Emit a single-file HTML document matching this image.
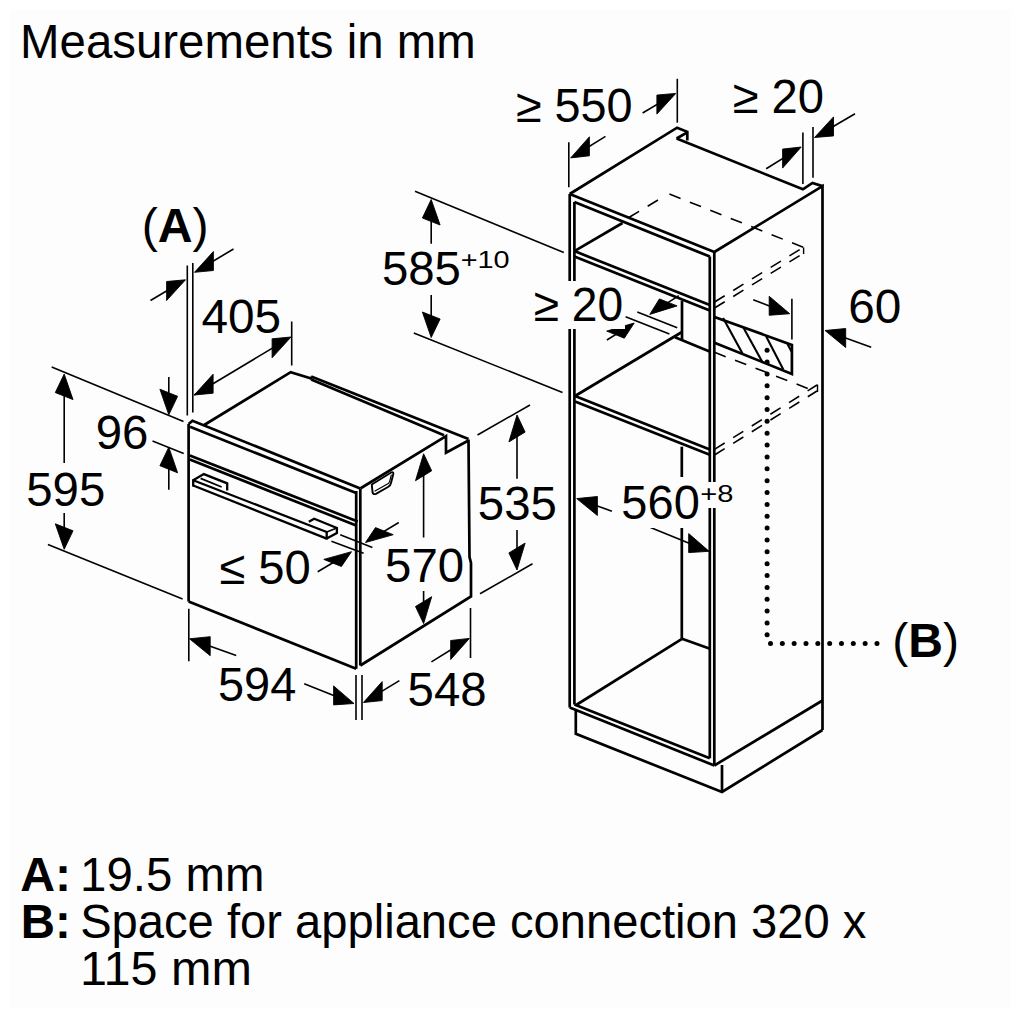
<!DOCTYPE html>
<html><head><meta charset="utf-8"><style>
html,body{margin:0;padding:0;background:#fff;}
svg{display:block;}
</style></head><body>
<svg width="1024" height="1024" viewBox="0 0 1024 1024" style="font-family:'Liberation Sans',sans-serif">
<rect x="0" y="0" width="1024" height="1024" fill="#fff"/>
<rect x="10" y="10" width="1001" height="998" fill="#fdfdfd"/>
<g stroke="#000" fill="none" stroke-linecap="butt">
<line x1="188.6" y1="424.0" x2="188.6" y2="601.5" stroke-width="2.7"/>
<line x1="188.6" y1="601.5" x2="356.2" y2="668.8" stroke-width="2.7"/>
<line x1="356.2" y1="491.0" x2="356.2" y2="668.8" stroke-width="2.7"/>
<line x1="360.3" y1="489.0" x2="360.3" y2="665.5" stroke-width="2.7"/>
<path d="M188.6,424.0 L192.5,420.7 L360.3,488.5" stroke-width="2.7" fill="none" stroke-linejoin="miter"/>
<line x1="190.0" y1="426.8" x2="356.2" y2="493.0" stroke-width="2.7"/>
<line x1="189.8" y1="455.4" x2="357.7" y2="521.5" stroke-width="2.7"/>
<line x1="189.8" y1="459.6" x2="356.2" y2="525.5" stroke-width="2.7"/>
<path d="M360.3,488.5 L446.0,436.2 L446.0,452.8 L468.5,440.5" stroke-width="2.7" fill="none" stroke-linejoin="miter"/>
<path d="M468.5,439.5 L469.5,557.0 L471.0,563.0 L471.0,596.5 L360.3,665.5" stroke-width="2.7" fill="none" stroke-linejoin="miter"/>
<path d="M204.2,425.0 L290.7,372.1 L311.2,378.5" stroke-width="2.7" fill="none" stroke-linejoin="miter"/>
<line x1="311.2" y1="376.6" x2="311.2" y2="379.5" stroke-width="2.7"/>
<line x1="311.2" y1="376.6" x2="468.5" y2="439.1" stroke-width="2.7"/>
<line x1="311.2" y1="379.5" x2="444.0" y2="435.2" stroke-width="2.7"/>
<path d="M371.8,484.5 L391.5,472.3 Q393.6,471.8 393.3,474 L391,483 Q390.5,485.5 388,487 L376,493.8 Q373,495 372.5,492 Z" stroke-width="1.9" fill="none"/>
<path d="M374.6,491.2 L388.3,483.6 Q389.6,482.6 390,480 L391.4,474.6" stroke-width="1.2" fill="none"/>
<line x1="193.2" y1="480.3" x2="326.7" y2="532.0" stroke-width="2.3"/>
<line x1="193.2" y1="485.5" x2="326.7" y2="538.6" stroke-width="2.3"/>
<line x1="193.2" y1="479.2" x2="193.2" y2="486.6" stroke-width="2.3"/>
<path d="M193.2,480.3 L203.8,474.1 L227.2,483.4 L227.2,490.5" stroke-width="2.3" fill="none" stroke-linejoin="miter"/>
<line x1="200.6" y1="478.4" x2="221.7" y2="487.0" stroke-width="1.8"/>
<path d="M308.8,521.8 L314.2,518.7 L336.9,528.0 L336.9,533.1 L326.7,538.6" stroke-width="2.3" fill="none" stroke-linejoin="miter"/>
<line x1="326.7" y1="532.0" x2="336.9" y2="528.0" stroke-width="1.6"/>
<line x1="326.7" y1="531.0" x2="326.7" y2="539.6" stroke-width="2.3"/>
<line x1="187.3" y1="265.5" x2="187.3" y2="415.5" stroke-width="1.6"/>
<line x1="192.8" y1="263.0" x2="192.8" y2="412.5" stroke-width="1.6"/>
<line x1="181.2" y1="282.3" x2="150.5" y2="300.5" stroke-width="1.6"/>
<polygon points="185.5,279.8 166.6,300.5 166.6,281.5" fill="#000" stroke="#000" stroke-width="0.9" stroke-linejoin="miter"/>
<line x1="198.8" y1="269.7" x2="233.5" y2="249.0" stroke-width="1.6"/>
<polygon points="194.5,272.3 213.4,270.5 213.4,251.5" fill="#000" stroke="#000" stroke-width="0.9" stroke-linejoin="miter"/>
<line x1="291.7" y1="321.5" x2="291.7" y2="365.5" stroke-width="1.6"/>
<polygon points="194.2,395.0 213.1,393.2 213.1,374.2" fill="#000" stroke="#000" stroke-width="0.9" stroke-linejoin="miter"/>
<line x1="286.7" y1="339.6" x2="194.2" y2="395.0" stroke-width="1.6"/>
<polygon points="291.0,337.0 272.1,357.8 272.1,338.8" fill="#000" stroke="#000" stroke-width="0.9" stroke-linejoin="miter"/>
<line x1="51.7" y1="367.0" x2="183.5" y2="421.5" stroke-width="1.6"/>
<line x1="47.9" y1="544.5" x2="182.6" y2="599.1" stroke-width="1.6"/>
<line x1="64.2" y1="379.1" x2="64.2" y2="463.1" stroke-width="1.6"/>
<polygon points="64.2,374.1 73.0,399.6 55.3,392.6" fill="#000" stroke="#000" stroke-width="0.9" stroke-linejoin="miter"/>
<line x1="64.2" y1="544.3" x2="64.2" y2="513.0" stroke-width="1.6"/>
<polygon points="64.2,549.3 73.0,530.8 55.3,523.8" fill="#000" stroke="#000" stroke-width="0.9" stroke-linejoin="miter"/>
<line x1="152.5" y1="441.0" x2="183.7" y2="453.5" stroke-width="1.6"/>
<line x1="168.8" y1="409.8" x2="168.8" y2="377.0" stroke-width="1.6"/>
<polygon points="168.8,414.8 177.6,396.3 159.9,389.2" fill="#000" stroke="#000" stroke-width="0.9" stroke-linejoin="miter"/>
<line x1="168.8" y1="452.2" x2="168.8" y2="489.8" stroke-width="1.6"/>
<polygon points="168.8,447.2 177.6,472.8 159.9,465.7" fill="#000" stroke="#000" stroke-width="0.9" stroke-linejoin="miter"/>
<line x1="331.4" y1="541.2" x2="363.6" y2="553.3" stroke-width="1.6"/>
<line x1="340.2" y1="534.7" x2="372.4" y2="547.4" stroke-width="1.6"/>
<line x1="347.2" y1="554.3" x2="317.7" y2="571.8" stroke-width="1.6"/>
<polygon points="351.5,551.7 341.4,566.5 323.8,559.4" fill="#000" stroke="#000" stroke-width="0.9" stroke-linejoin="miter"/>
<line x1="369.8" y1="539.9" x2="398.8" y2="522.5" stroke-width="1.6"/>
<polygon points="365.5,542.5 393.2,534.7 375.5,527.6" fill="#000" stroke="#000" stroke-width="0.9" stroke-linejoin="miter"/>
<line x1="423.6" y1="458.8" x2="423.6" y2="537.5" stroke-width="1.6"/>
<polygon points="423.6,453.8 431.7,470.8 415.5,480.7" fill="#000" stroke="#000" stroke-width="0.9" stroke-linejoin="miter"/>
<line x1="423.6" y1="618.6" x2="423.6" y2="591.0" stroke-width="1.6"/>
<polygon points="423.6,623.6 431.7,596.7 415.5,606.5" fill="#000" stroke="#000" stroke-width="0.9" stroke-linejoin="miter"/>
<line x1="477.5" y1="435.0" x2="530.0" y2="405.0" stroke-width="1.6"/>
<line x1="480.0" y1="593.8" x2="532.5" y2="563.8" stroke-width="1.6"/>
<line x1="517.0" y1="420.0" x2="517.0" y2="478.8" stroke-width="1.6"/>
<polygon points="517.0,415.0 525.1,432.1 508.9,441.9" fill="#000" stroke="#000" stroke-width="0.9" stroke-linejoin="miter"/>
<line x1="517.0" y1="565.0" x2="517.0" y2="530.0" stroke-width="1.6"/>
<polygon points="517.0,570.0 525.1,543.1 508.9,552.9" fill="#000" stroke="#000" stroke-width="0.9" stroke-linejoin="miter"/>
<line x1="188.8" y1="608.8" x2="188.8" y2="661.2" stroke-width="1.6"/>
<line x1="194.2" y1="640.4" x2="236.2" y2="655.5" stroke-width="1.6"/>
<polygon points="189.5,638.8 210.2,655.7 210.2,636.7" fill="#000" stroke="#000" stroke-width="0.9" stroke-linejoin="miter"/>
<line x1="349.4" y1="701.7" x2="304.2" y2="683.8" stroke-width="1.6"/>
<polygon points="354.0,703.5 333.6,704.9 333.6,685.9" fill="#000" stroke="#000" stroke-width="0.9" stroke-linejoin="miter"/>
<line x1="356.0" y1="675.0" x2="356.0" y2="720.0" stroke-width="1.6"/>
<line x1="362.0" y1="675.0" x2="362.0" y2="720.0" stroke-width="1.6"/>
<line x1="470.5" y1="608.0" x2="470.5" y2="658.0" stroke-width="1.6"/>
<line x1="367.7" y1="699.9" x2="399.4" y2="680.6" stroke-width="1.6"/>
<polygon points="363.4,702.5 382.2,700.6 382.2,681.6" fill="#000" stroke="#000" stroke-width="0.9" stroke-linejoin="miter"/>
<line x1="465.1" y1="641.0" x2="431.4" y2="661.9" stroke-width="1.6"/>
<polygon points="469.4,638.4 450.7,659.5 450.7,640.5" fill="#000" stroke="#000" stroke-width="0.9" stroke-linejoin="miter"/>
<line x1="569.7" y1="194.0" x2="569.7" y2="707.5" stroke-width="2.7"/>
<line x1="574.4" y1="201.9" x2="574.4" y2="704.5" stroke-width="2.7"/>
<line x1="714.3" y1="252.0" x2="714.3" y2="765.5" stroke-width="2.7"/>
<line x1="709.8" y1="256.6" x2="709.8" y2="758.2" stroke-width="2.7"/>
<line x1="569.7" y1="194.0" x2="714.3" y2="252.0" stroke-width="2.7"/>
<line x1="574.4" y1="201.9" x2="709.8" y2="256.6" stroke-width="2.7"/>
<line x1="569.7" y1="707.5" x2="714.3" y2="765.5" stroke-width="2.7"/>
<line x1="574.4" y1="704.5" x2="709.8" y2="758.2" stroke-width="2.7"/>
<path d="M569.7,194.0 L677.1,127.7 L687.3,131.8 L687.3,140.4" stroke-width="2.7" fill="none" stroke-linejoin="miter"/>
<line x1="676.6" y1="138.5" x2="687.3" y2="132.3" stroke-width="2.7"/>
<path d="M676.6,138.5 L802.9,189.3 L812.5,182.9 L823.2,186.4" stroke-width="2.7" fill="none" stroke-linejoin="miter"/>
<path d="M714.3,252.0 L822.5,186.2 L822.5,730.0" stroke-width="2.7" fill="none" stroke-linejoin="miter"/>
<line x1="714.3" y1="765.5" x2="822.5" y2="700.5" stroke-width="2.7"/>
<path d="M575.8,711.0 L575.8,733.8 L722.0,792.0 L822.5,730.0" stroke-width="2.7" fill="none" stroke-linejoin="miter"/>
<line x1="722.0" y1="765.0" x2="722.0" y2="792.0" stroke-width="2.7"/>
<line x1="574.4" y1="251.1" x2="709.8" y2="305.1" stroke-width="2.7"/>
<line x1="574.4" y1="256.6" x2="709.8" y2="310.5" stroke-width="2.7"/>
<line x1="574.4" y1="251.1" x2="622.5" y2="223.0" stroke-width="2.7"/>
<line x1="628.8" y1="217.5" x2="660.0" y2="198.8" stroke-width="1.6" stroke-dasharray="12 10"/>
<line x1="669.4" y1="194.0" x2="803.8" y2="247.5" stroke-width="1.6" stroke-dasharray="12 10"/>
<line x1="714.5" y1="302.0" x2="803.8" y2="247.0" stroke-width="1.6" stroke-dasharray="12 10"/>
<line x1="714.5" y1="308.0" x2="803.8" y2="253.0" stroke-width="1.6" stroke-dasharray="12 10"/>
<line x1="803.6" y1="247.5" x2="803.6" y2="254.0" stroke-width="1.4"/>
<line x1="575.0" y1="396.0" x2="709.8" y2="449.4" stroke-width="2.7"/>
<line x1="575.0" y1="401.5" x2="709.8" y2="454.8" stroke-width="2.7"/>
<line x1="575.0" y1="396.0" x2="682.0" y2="332.0" stroke-width="2.7"/>
<line x1="714.5" y1="352.3" x2="817.0" y2="392.0" stroke-width="1.6" stroke-dasharray="12 10"/>
<line x1="714.5" y1="449.4" x2="817.0" y2="385.0" stroke-width="1.6" stroke-dasharray="12 10"/>
<line x1="714.5" y1="455.0" x2="817.0" y2="391.0" stroke-width="1.6" stroke-dasharray="12 10"/>
<line x1="817.5" y1="384.5" x2="817.5" y2="392.0" stroke-width="1.4"/>
<line x1="682.0" y1="300.8" x2="682.0" y2="340.0" stroke-width="2.7"/>
<line x1="675.0" y1="337.2" x2="710.2" y2="351.8" stroke-width="2.7"/>
<line x1="681.8" y1="446.7" x2="681.8" y2="638.8" stroke-width="2.7"/>
<line x1="576.2" y1="705.0" x2="682.0" y2="638.8" stroke-width="2.7"/>
<line x1="682.0" y1="638.8" x2="710.0" y2="648.8" stroke-width="2.7"/>
<path d="M714.5,316.9 L791.9,344.9 L791.9,373.9 L714.5,342.7" stroke-width="2.7" fill="none" stroke-linejoin="miter"/>
<line x1="723.1" y1="318.0" x2="742.5" y2="353.5" stroke-width="2.1"/>
<line x1="743.5" y1="327.7" x2="762.9" y2="363.1" stroke-width="2.1"/>
<line x1="766.1" y1="336.3" x2="783.3" y2="369.6" stroke-width="2.1"/>
<line x1="787.5" y1="344.0" x2="791.5" y2="351.5" stroke-width="2.1"/>
<circle cx="767.1" cy="350.20" r="2.5" fill="#000" stroke="none"/>
<circle cx="767.1" cy="362.06" r="2.5" fill="#000" stroke="none"/>
<circle cx="767.1" cy="373.92" r="2.5" fill="#000" stroke="none"/>
<circle cx="767.1" cy="385.78" r="2.5" fill="#000" stroke="none"/>
<circle cx="767.1" cy="397.64" r="2.5" fill="#000" stroke="none"/>
<circle cx="767.1" cy="409.50" r="2.5" fill="#000" stroke="none"/>
<circle cx="767.1" cy="421.36" r="2.5" fill="#000" stroke="none"/>
<circle cx="767.1" cy="433.22" r="2.5" fill="#000" stroke="none"/>
<circle cx="767.1" cy="445.08" r="2.5" fill="#000" stroke="none"/>
<circle cx="767.1" cy="456.94" r="2.5" fill="#000" stroke="none"/>
<circle cx="767.1" cy="468.80" r="2.5" fill="#000" stroke="none"/>
<circle cx="767.1" cy="480.66" r="2.5" fill="#000" stroke="none"/>
<circle cx="767.1" cy="492.52" r="2.5" fill="#000" stroke="none"/>
<circle cx="767.1" cy="504.38" r="2.5" fill="#000" stroke="none"/>
<circle cx="767.1" cy="516.24" r="2.5" fill="#000" stroke="none"/>
<circle cx="767.1" cy="528.10" r="2.5" fill="#000" stroke="none"/>
<circle cx="767.1" cy="539.96" r="2.5" fill="#000" stroke="none"/>
<circle cx="767.1" cy="551.82" r="2.5" fill="#000" stroke="none"/>
<circle cx="767.1" cy="563.68" r="2.5" fill="#000" stroke="none"/>
<circle cx="767.1" cy="575.54" r="2.5" fill="#000" stroke="none"/>
<circle cx="767.1" cy="587.40" r="2.5" fill="#000" stroke="none"/>
<circle cx="767.1" cy="599.26" r="2.5" fill="#000" stroke="none"/>
<circle cx="767.1" cy="611.12" r="2.5" fill="#000" stroke="none"/>
<circle cx="767.1" cy="622.98" r="2.5" fill="#000" stroke="none"/>
<circle cx="767.1" cy="634.84" r="2.5" fill="#000" stroke="none"/>
<circle cx="770.50" cy="643.4" r="2.5" fill="#000" stroke="none"/>
<circle cx="782.33" cy="643.4" r="2.5" fill="#000" stroke="none"/>
<circle cx="794.16" cy="643.4" r="2.5" fill="#000" stroke="none"/>
<circle cx="805.99" cy="643.4" r="2.5" fill="#000" stroke="none"/>
<circle cx="817.82" cy="643.4" r="2.5" fill="#000" stroke="none"/>
<circle cx="829.65" cy="643.4" r="2.5" fill="#000" stroke="none"/>
<circle cx="841.48" cy="643.4" r="2.5" fill="#000" stroke="none"/>
<circle cx="853.31" cy="643.4" r="2.5" fill="#000" stroke="none"/>
<circle cx="865.14" cy="643.4" r="2.5" fill="#000" stroke="none"/>
<circle cx="876.97" cy="643.4" r="2.5" fill="#000" stroke="none"/>
<line x1="568.8" y1="142.3" x2="568.8" y2="187.2" stroke-width="1.6"/>
<line x1="677.3" y1="78.8" x2="677.3" y2="122.7" stroke-width="1.6"/>
<line x1="575.0" y1="155.3" x2="605.5" y2="136.4" stroke-width="1.6"/>
<polygon points="570.7,157.9 589.4,155.8 589.4,136.8" fill="#000" stroke="#000" stroke-width="0.9" stroke-linejoin="miter"/>
<line x1="671.5" y1="95.9" x2="642.6" y2="113.0" stroke-width="1.6"/>
<polygon points="675.8,93.4 656.9,114.1 656.9,95.1" fill="#000" stroke="#000" stroke-width="0.9" stroke-linejoin="miter"/>
<line x1="802.9" y1="132.5" x2="802.9" y2="183.9" stroke-width="1.6"/>
<line x1="813.0" y1="127.0" x2="813.0" y2="177.8" stroke-width="1.6"/>
<line x1="797.0" y1="149.6" x2="766.2" y2="168.8" stroke-width="1.6"/>
<polygon points="801.2,147.0 782.6,168.1 782.6,149.1" fill="#000" stroke="#000" stroke-width="0.9" stroke-linejoin="miter"/>
<line x1="818.8" y1="135.0" x2="855.0" y2="113.8" stroke-width="1.6"/>
<polygon points="814.5,137.5 833.5,135.9 833.5,116.9" fill="#000" stroke="#000" stroke-width="0.9" stroke-linejoin="miter"/>
<line x1="415.0" y1="191.2" x2="563.8" y2="252.5" stroke-width="1.6"/>
<line x1="413.8" y1="333.0" x2="562.5" y2="392.5" stroke-width="1.6"/>
<line x1="431.2" y1="204.5" x2="431.2" y2="243.8" stroke-width="1.6"/>
<polygon points="431.2,199.5 440.1,225.0 422.4,218.0" fill="#000" stroke="#000" stroke-width="0.9" stroke-linejoin="miter"/>
<line x1="431.2" y1="332.5" x2="431.2" y2="295.0" stroke-width="1.6"/>
<polygon points="431.2,337.5 440.1,319.0 422.4,312.0" fill="#000" stroke="#000" stroke-width="0.9" stroke-linejoin="miter"/>
<line x1="637.3" y1="312.0" x2="677.2" y2="327.7" stroke-width="1.6"/>
<line x1="625.6" y1="316.7" x2="669.4" y2="333.9" stroke-width="1.6"/>
<line x1="654.0" y1="311.7" x2="678.8" y2="295.6" stroke-width="1.6"/>
<polygon points="649.8,314.4 677.1,305.9 659.4,298.9" fill="#000" stroke="#000" stroke-width="0.9" stroke-linejoin="miter"/>
<line x1="630.0" y1="325.6" x2="606.9" y2="340.0" stroke-width="1.6"/>
<polygon points="634.2,323.0 624.3,338.2 606.7,331.1" fill="#000" stroke="#000" stroke-width="0.9" stroke-linejoin="miter"/>
<line x1="791.9" y1="298.7" x2="791.9" y2="339.5" stroke-width="1.6"/>
<line x1="785.0" y1="311.9" x2="753.2" y2="299.7" stroke-width="1.6"/>
<polygon points="789.7,313.7 769.2,315.3 769.2,296.3" fill="#000" stroke="#000" stroke-width="0.9" stroke-linejoin="miter"/>
<line x1="829.7" y1="332.2" x2="871.2" y2="347.2" stroke-width="1.6"/>
<polygon points="825.0,330.5 845.7,347.5 845.7,328.5" fill="#000" stroke="#000" stroke-width="0.9" stroke-linejoin="miter"/>
<line x1="581.4" y1="500.3" x2="611.9" y2="511.2" stroke-width="1.6"/>
<polygon points="576.7,498.6 597.4,515.5 597.4,496.5" fill="#000" stroke="#000" stroke-width="0.9" stroke-linejoin="miter"/>
<line x1="704.5" y1="549.4" x2="650.5" y2="527.6" stroke-width="1.6"/>
<polygon points="709.1,551.3 688.7,552.6 688.7,533.6" fill="#000" stroke="#000" stroke-width="0.9" stroke-linejoin="miter"/>
<rect x="530" y="281" width="95" height="48" fill="#fdfdfd" stroke="none"/>
<rect x="620" y="477" width="80" height="51" fill="#fdfdfd" stroke="none"/>
<rect x="700" y="482" width="34" height="26" fill="#fdfdfd" stroke="none"/>
<text x="20.07" y="57.80" font-size="47.4" stroke="none" fill="#000">Measurements in mm</text>
<text transform="translate(141.64,241.60) scale(1.0183,1)" font-size="47.4" stroke="none" fill="#000">(<tspan font-weight="bold">A</tspan>)</text>
<text transform="translate(892.16,656.80) scale(1.0150,1)" font-size="47.4" stroke="none" fill="#000">(<tspan font-weight="bold">B</tspan>)</text>
<text transform="translate(20.13,890.60) scale(1.0169,1)" font-size="47.4" font-weight="bold" stroke="none" fill="#000">A:</text>
<text x="80.10" y="890.60" font-size="47.4" stroke="none" fill="#000">19.5 mm</text>
<text x="20.74" y="937.60" font-size="47.4" font-weight="bold" stroke="none" fill="#000">B:</text>
<text transform="translate(80.16,937.60) scale(0.9948,1)" font-size="47.4" stroke="none" fill="#000">Space for appliance connection 320 x</text>
<text transform="translate(80.11,984.50) scale(1.0248,1)" font-size="47.4" stroke="none" fill="#000">115 mm</text>
<text transform="translate(201.39,332.60) scale(1.0079,1)" font-size="47.4" stroke="none" fill="#000">405</text>
<text x="95.65" y="448.90" font-size="47.4" stroke="none" fill="#000">96</text>
<text x="26.19" y="505.70" font-size="47.4" stroke="none" fill="#000">595</text>
<text transform="translate(219.21,584.10) scale(0.9955,1)" font-size="47.4" stroke="none" fill="#000">≤ 50</text>
<text x="385.10" y="581.60" font-size="47.4" stroke="none" fill="#000">570</text>
<text x="477.79" y="520.30" font-size="47.4" stroke="none" fill="#000">535</text>
<text transform="translate(218.02,700.70) scale(0.9901,1)" font-size="47.4" stroke="none" fill="#000">594</text>
<text x="407.60" y="706.00" font-size="47.4" stroke="none" fill="#000">548</text>
<text x="381.90" y="285.20" font-size="47.4" stroke="none" fill="#000">585</text>
<text transform="translate(533.54,320.80) scale(0.9751,1)" font-size="47.4" stroke="none" fill="#000">≥ 20</text>
<text transform="translate(515.72,122.20) scale(0.9887,1)" font-size="47.4" stroke="none" fill="#000">≥ 550</text>
<text transform="translate(732.61,113.20) scale(0.9955,1)" font-size="47.4" stroke="none" fill="#000">≥ 20</text>
<text transform="translate(848.28,322.70) scale(1.0082,1)" font-size="47.4" stroke="none" fill="#000">60</text>
<text transform="translate(621.31,519.10) scale(0.9927,1)" font-size="47.4" stroke="none" fill="#000">560</text>
<text transform="translate(460.63,268.25) scale(1.1796,1)" font-size="24.5" stroke="none" fill="#000">+10</text>
<text transform="translate(700.21,502.15) scale(1.1882,1)" font-size="24.5" stroke="none" fill="#000">+8</text>
</g>
</svg>
</body></html>
